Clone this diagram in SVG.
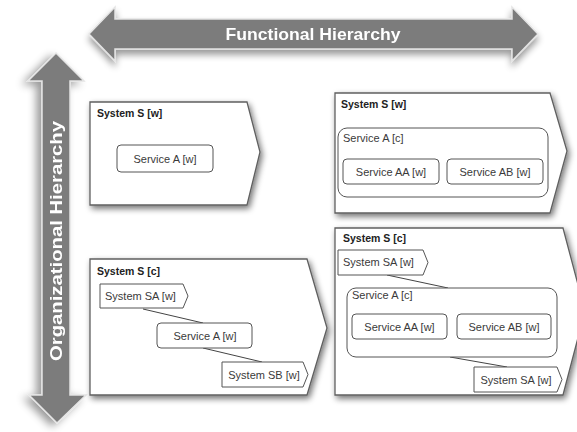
<svg xmlns="http://www.w3.org/2000/svg" width="577" height="432" viewBox="0 0 577 432">
<defs>
<filter id="sh" x="-20%" y="-20%" width="140%" height="140%">
<feGaussianBlur in="SourceAlpha" stdDeviation="3"/>
<feOffset dx="2" dy="3" result="b"/>
<feComponentTransfer><feFuncA type="linear" slope="0.55"/></feComponentTransfer>
<feMerge><feMergeNode/><feMergeNode in="SourceGraphic"/></feMerge>
</filter>
<filter id="ash" x="-20%" y="-40%" width="140%" height="180%">
<feGaussianBlur in="SourceAlpha" stdDeviation="3.5"/>
<feOffset dx="0" dy="5" result="b"/>
<feComponentTransfer><feFuncA type="linear" slope="0.4"/></feComponentTransfer>
<feMerge><feMergeNode/><feMergeNode in="SourceGraphic"/></feMerge>
</filter>
<filter id="vsh" x="-60%" y="-10%" width="220%" height="120%">
<feGaussianBlur in="SourceAlpha" stdDeviation="4"/>
<feOffset dx="-5" dy="3" result="b"/>
<feComponentTransfer><feFuncA type="linear" slope="0.4"/></feComponentTransfer>
<feMerge><feMergeNode/><feMergeNode in="SourceGraphic"/></feMerge>
</filter>
</defs>
<style>
.arrow{fill:#7b7b7b;stroke:#e4e4e4;stroke-width:1.5}
.atxt{font-family:"Liberation Sans",Arial,sans-serif;font-weight:bold;fill:#ffffff}
.panel{fill:#ffffff;stroke:#606060;stroke-width:1.3}
.box{fill:#ffffff;stroke:#555555;stroke-width:1}
.ptitle{font-family:"Liberation Sans",Arial,sans-serif;font-weight:bold;font-size:10.5px;fill:#222222}
.lbl{font-family:"Liberation Sans",Arial,sans-serif;font-size:11px;fill:#3a3a3a}
.conn{stroke:#444444;stroke-width:1;fill:none}
</style>
<rect width="577" height="432" fill="#ffffff"/>

<g id="functional-arrow" filter="url(#ash)">
<polygon class="arrow" points="89,34 115,7 115,19 512,19 512,7 538,34 512,61 512,49 115,49 115,61"/>
<text class="atxt" x="313" y="40" font-size="17" text-anchor="middle" textLength="175" lengthAdjust="spacingAndGlyphs">Functional Hierarchy</text>
</g>

<g id="organizational-arrow" filter="url(#vsh)">
<polygon class="arrow" points="56,53 84,81 70,81 70,395 86,395 57,423 29,395 42,395 42,81 28,81"/>
<text class="atxt" transform="translate(62,241) rotate(-90)" x="0" y="0" font-size="16" text-anchor="middle" textLength="240" lengthAdjust="spacingAndGlyphs">Organizational  Hierarchy</text>
</g>

<g id="panel-tl">
<polygon class="panel" filter="url(#sh)" points="90,102 247,102 260,152 247,205 90,205"/>
<text class="ptitle" x="97" y="117">System S [w]</text>
<rect class="box" x="117" y="145" width="96" height="27" rx="4"/>
<text class="lbl" x="165" y="163" text-anchor="middle">Service A [w]</text>
</g>

<g id="panel-tr">
<polygon class="panel" filter="url(#sh)" points="335,93 550,93 567,151 550,213 335,213"/>
<text class="ptitle" x="341" y="108">System S [w]</text>
<rect class="box" x="338" y="128" width="210" height="69" rx="9"/>
<text class="lbl" x="343" y="142">Service A [c]</text>
<rect class="box" x="343" y="159" width="96" height="25" rx="4"/>
<text class="lbl" x="391" y="175.5" text-anchor="middle">Service AA [w]</text>
<rect class="box" x="447" y="159" width="96" height="25" rx="4"/>
<text class="lbl" x="495" y="175.5" text-anchor="middle">Service AB [w]</text>
</g>

<g id="panel-bl">
<polygon class="panel" filter="url(#sh)" points="90,259 307,259 327,328 307,395 90,395"/>
<text class="ptitle" x="97" y="275">System S [c]</text>
</g>

<g id="panel-br">
<polygon class="panel" filter="url(#sh)" points="335,228 563,228 585,311 563,395 335,395"/>
<text class="ptitle" x="343" y="242">System S [c]</text>
</g>

<g id="connectors">
<line class="conn" x1="143" y1="309" x2="203" y2="323"/>
<line class="conn" x1="203" y1="348" x2="262" y2="362"/>
<line class="conn" x1="387" y1="275" x2="448" y2="288"/>
<line class="conn" x1="450" y1="357" x2="507" y2="367"/>
</g>

<g id="bl-system-sa">
<polygon class="box" points="100,284 183,284 188,296 183,308 100,308"/>
<text class="lbl" x="105" y="300">System SA [w]</text>
</g>
<g id="bl-service-a">
<rect class="box" x="157" y="323" width="95" height="25" rx="4"/>
<text class="lbl" x="205" y="340" text-anchor="middle">Service A [w]</text>
</g>
<g id="bl-system-sb">
<polygon class="box" points="222,362 303,362 308,374.5 303,387 222,387"/>
<text class="lbl" x="264" y="379" text-anchor="middle">System SB [w]</text>
</g>

<g id="br-system-sa-top">
<polygon class="box" points="338,250 423,250 428,262.5 423,275 338,275"/>
<text class="lbl" x="343" y="266">System SA [w]</text>
</g>
<g id="br-service-a">
<rect class="box" x="347" y="288" width="210" height="69" rx="9"/>
<text class="lbl" x="352" y="299">Service A [c]</text>
<rect class="box" x="352" y="314" width="95" height="25" rx="4"/>
<text class="lbl" x="399.5" y="330.5" text-anchor="middle">Service AA [w]</text>
<rect class="box" x="457" y="314" width="94" height="25" rx="4"/>
<text class="lbl" x="504" y="330.5" text-anchor="middle">Service AB [w]</text>
</g>
<g id="br-system-sa-bottom">
<polygon class="box" points="474,367 557,367 562,379.5 557,392 474,392"/>
<text class="lbl" x="516" y="384" text-anchor="middle">System SA [w]</text>
</g>
</svg>
